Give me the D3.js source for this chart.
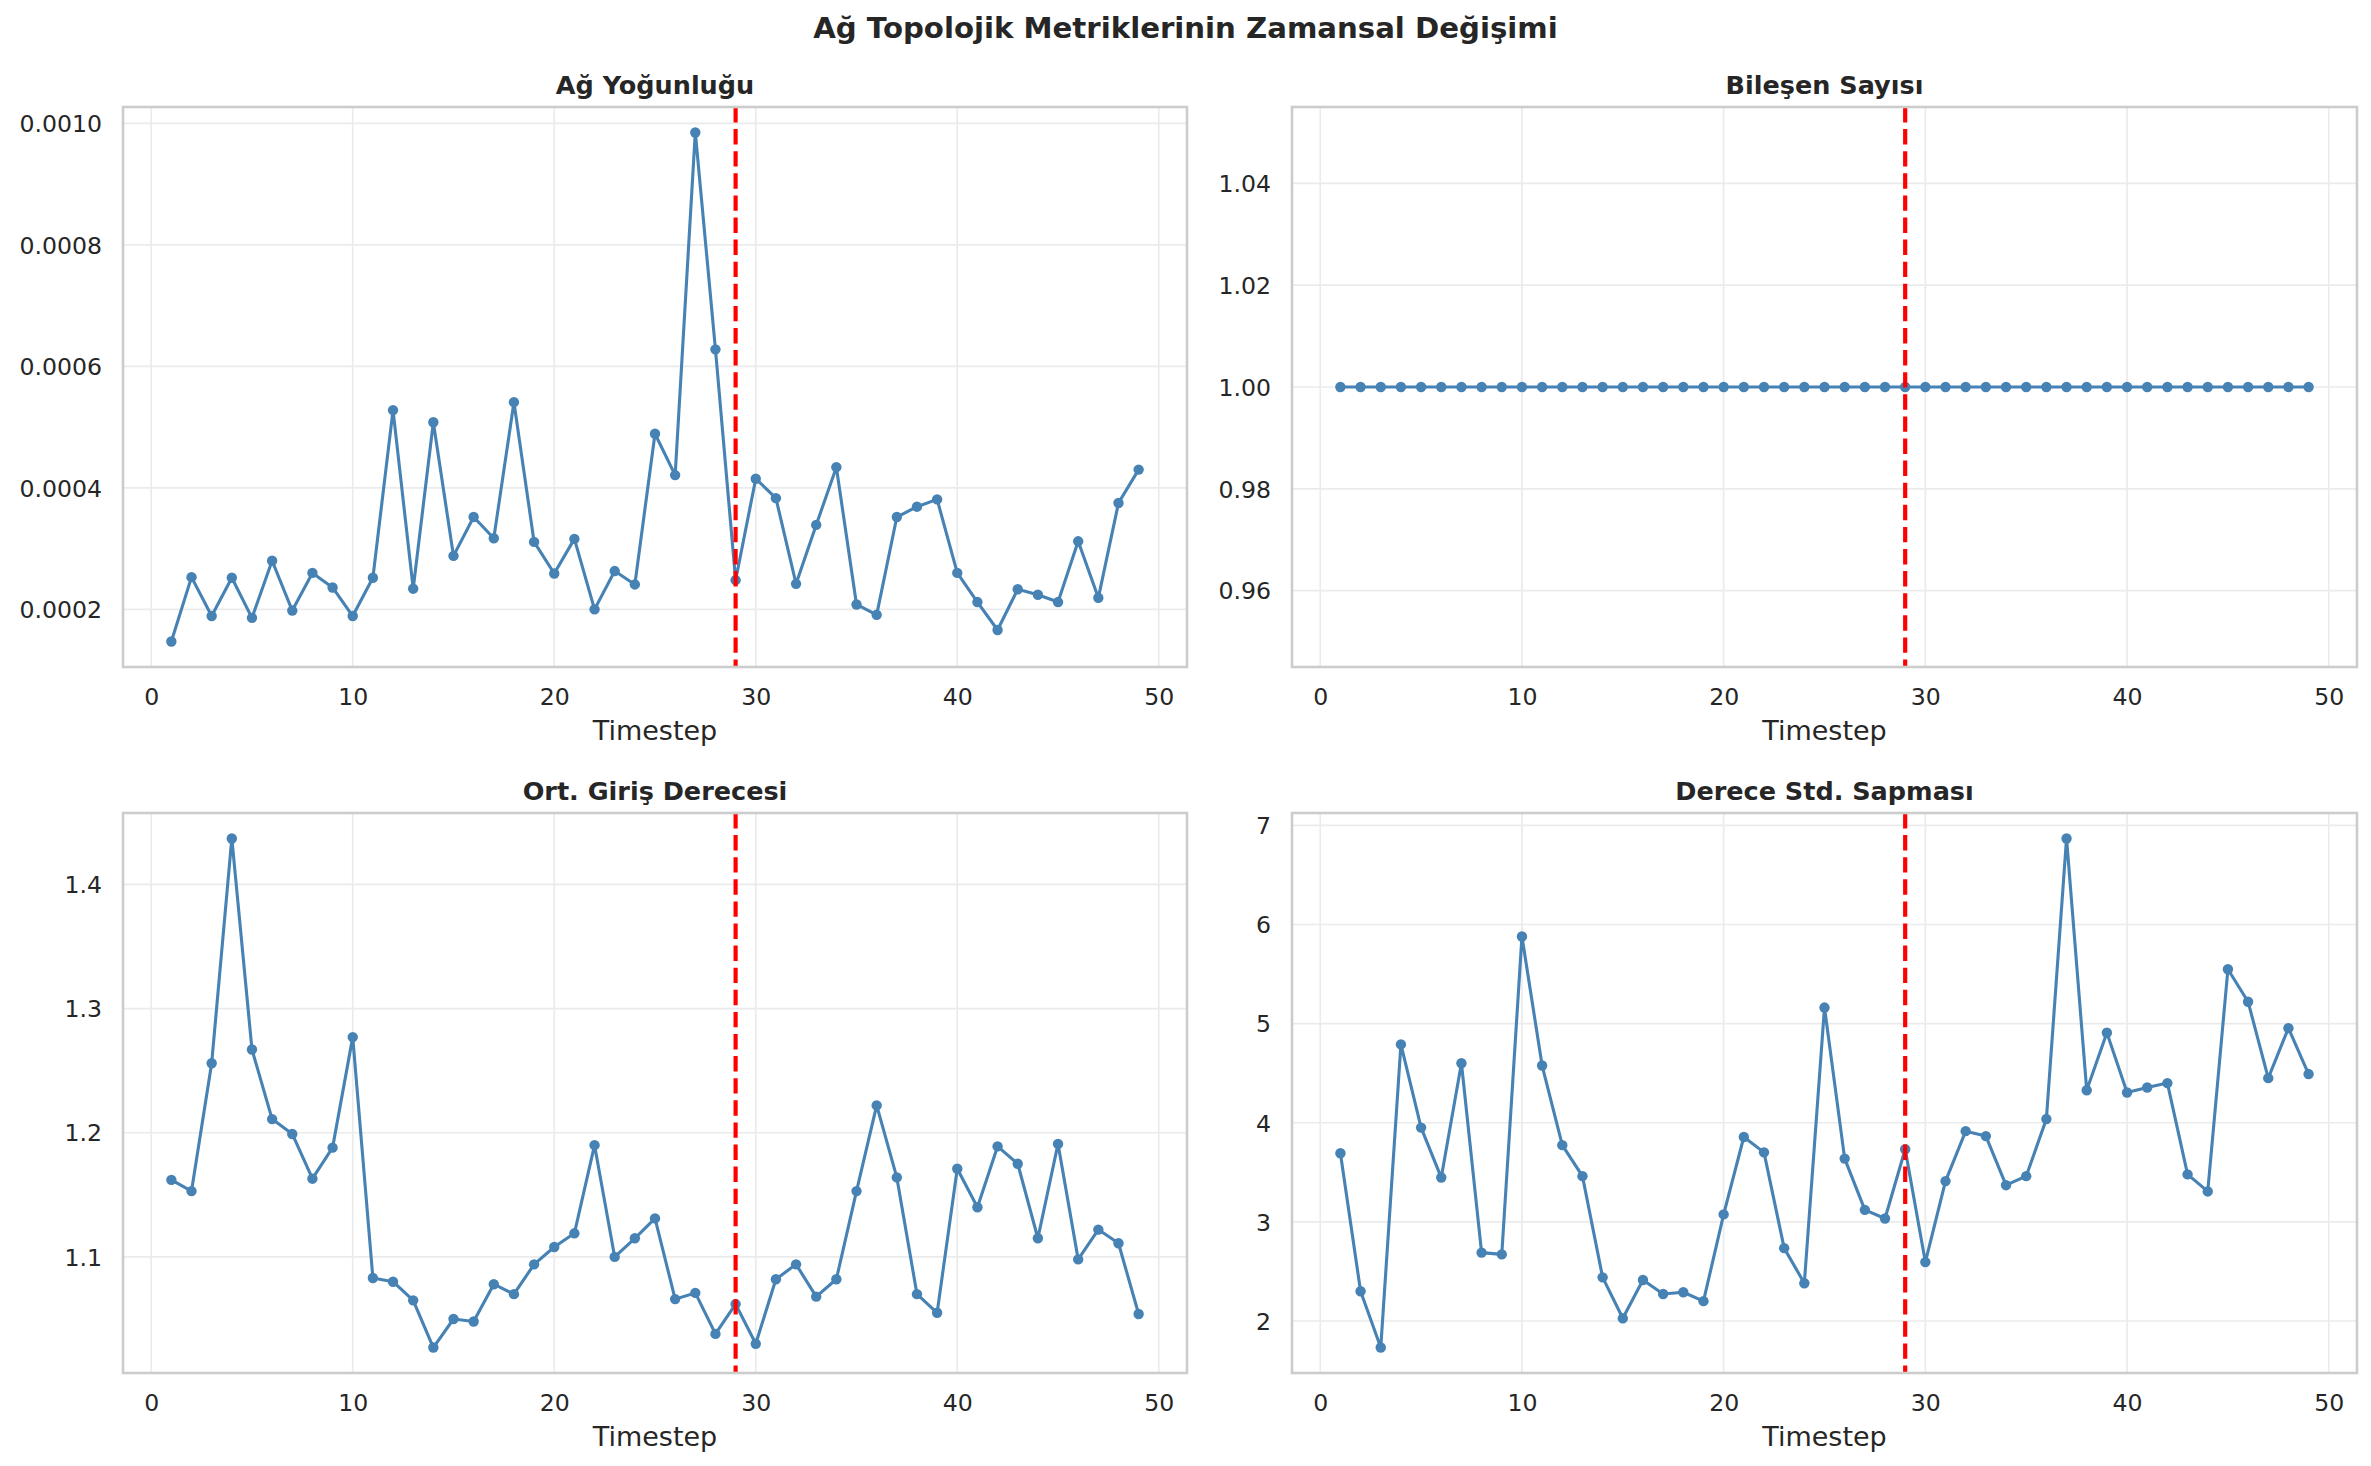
<!DOCTYPE html>
<html>
<head>
<meta charset="utf-8">
<script src="https://cdn.jsdelivr.net/npm/d3@7"></script>
<style>
  html, body { margin: 0; padding: 0; background: #ffffff; }
  svg { display: block; }
  text { font-family: "DejaVu Sans", sans-serif; fill: #262626; }
</style>
</head>
<body>
<svg id="chart" width="2371" height="1466"></svg>
<script>
// ---- DATA ----
const timesteps = [1,2,3,4,5,6,7,8,9,10,11,12,13,14,15,16,17,18,19,20,21,22,23,24,25,
  26,27,28,29,30,31,32,33,34,35,36,37,38,39,40,41,42,43,44,45,46,47,48,49];

const networkDensity = [0.000147,0.000253,0.000189,0.000252,0.000186,0.000280,0.000198,0.000260,0.000236,0.000189,
  0.000252,0.000528,0.000234,0.000508,0.000288,0.000352,0.000317,0.000541,0.000311,0.000259,
  0.000316,0.000200,0.000263,0.000241,0.000489,0.000421,0.000985,0.000628,0.000248,0.000415,
  0.000383,0.000242,0.000339,0.000434,0.000208,0.000191,0.000352,0.000369,0.000381,0.000260,
  0.000212,0.000166,0.000233,0.000224,0.000212,0.000312,0.000219,0.000375,0.000430];

const componentCount = [1,1,1,1,1,1,1,1,1,1,1,1,1,1,1,1,1,1,1,1,1,1,1,1,1,
  1,1,1,1,1,1,1,1,1,1,1,1,1,1,1,1,1,1,1,1,1,1,1,1];

const avgInDegree = [1.162,1.153,1.256,1.437,1.267,1.211,1.199,1.163,1.188,1.277,
  1.083,1.080,1.065,1.027,1.050,1.048,1.078,1.070,1.094,1.108,
  1.119,1.190,1.100,1.115,1.131,1.066,1.071,1.038,1.062,1.030,
  1.082,1.094,1.068,1.082,1.153,1.222,1.164,1.070,1.055,1.171,
  1.140,1.189,1.175,1.115,1.191,1.098,1.122,1.111,1.054];

const degreeStd = [3.692,2.300,1.732,4.790,3.951,3.447,4.600,2.690,2.672,5.879,
  4.577,3.774,3.461,2.440,2.027,2.413,2.272,2.290,2.200,3.075,
  3.856,3.701,2.735,2.381,5.162,3.638,3.121,3.034,3.733,2.594,
  3.411,3.915,3.865,3.370,3.461,4.037,6.868,4.328,4.908,4.305,
  4.355,4.400,3.479,3.307,5.548,5.221,4.450,4.954,4.491];

const changePoint = 29;

const xTicks = [0,10,20,30,40,50];
const yTicksDensity = [0.0002,0.0004,0.0006,0.0008,0.0010];
const yTicksComponents = [0.96,0.98,1.00,1.02,1.04];
const yTicksInDegree = [1.1,1.2,1.3,1.4];
const yTicksStd = [2,3,4,5,6,7];

const suptitle = "Ağ Topolojik Metriklerinin Zamansal Değişimi";
const xLabel = "Timestep";

const panels = [
  { title: "Ağ Yoğunluğu", values: networkDensity, ticks: yTicksDensity, fmt: d3.format(".4f"), col: 0, row: 0 },
  { title: "Bileşen Sayısı", values: componentCount, ticks: yTicksComponents, fmt: d3.format(".2f"), col: 1, row: 0 },
  { title: "Ort. Giriş Derecesi", values: avgInDegree, ticks: yTicksInDegree, fmt: d3.format(".1f"), col: 0, row: 1 },
  { title: "Derece Std. Sapması", values: degreeStd, ticks: yTicksStd, fmt: d3.format("d"), col: 1, row: 1 }
];

// ---- LAYOUT ----
const colX = [[123, 1187], [1292, 2357]];
const rowY = [[107, 667], [813, 1373]];

const svg = d3.select("#chart");

svg.append("text")
  .attr("x", 1185.5).attr("y", 38)
  .attr("text-anchor", "middle")
  .style("font-size", "29.2px").style("font-weight", "bold")
  .text(suptitle);

function padDomain(lo, hi) {
  if (lo === hi) { const d = Math.abs(lo) * 0.05 || 0.05; lo -= d; hi += d; }
  const m = (hi - lo) * 0.05;
  return [lo - m, hi + m];
}

const xExt = d3.extent(timesteps);

panels.forEach((p, i) => {
  const [x0, x1] = colX[p.col];
  const [y0, y1] = rowY[p.row];
  const x = d3.scaleLinear().domain(padDomain(xExt[0], xExt[1])).range([x0, x1]);
  const ext = d3.extent(p.values);
  const y = d3.scaleLinear().domain(padDomain(ext[0], ext[1])).range([y1, y0]);

  const g = svg.append("g");
  const clipId = "clip" + i;
  svg.append("clipPath").attr("id", clipId)
    .append("rect").attr("x", x0).attr("y", y0).attr("width", x1 - x0).attr("height", y1 - y0);

  // grid
  const grid = g.append("g").attr("clip-path", `url(#${clipId})`);
  grid.selectAll("line.vx").data(xTicks).join("line")
    .attr("x1", d => x(d)).attr("x2", d => x(d)).attr("y1", y0).attr("y2", y1)
    .attr("stroke", "#ebebeb").attr("stroke-width", 1.7);
  grid.selectAll("line.hy").data(p.ticks).join("line")
    .attr("y1", d => y(d)).attr("y2", d => y(d)).attr("x1", x0).attr("x2", x1)
    .attr("stroke", "#ebebeb").attr("stroke-width", 1.7);

  // axes (d3 axes, tick lines hidden)
  const xAxis = g.append("g").attr("transform", `translate(0,${y1})`)
    .call(d3.axisBottom(x).tickValues(xTicks).tickSize(0).tickPadding(21).tickFormat(d3.format("d")));
  const yAxis = g.append("g").attr("transform", `translate(${x0},0)`)
    .call(d3.axisLeft(y).tickValues(p.ticks).tickSize(0).tickPadding(21).tickFormat(p.fmt));
  [xAxis, yAxis].forEach(a => {
    a.select(".domain").remove();
    a.selectAll("text").style("font-size", "23.6px").style("font-family", "DejaVu Sans").attr("fill", "#262626");
  });
  yAxis.selectAll("text").attr("dy", "0.35em");
  xAxis.selectAll("text").attr("dy", "0.72em");

  // data
  const plot = g.append("g").attr("clip-path", `url(#${clipId})`);
  const pts = timesteps.map((t, k) => [t, p.values[k]]);
  plot.append("path").datum(pts)
    .attr("fill", "none").attr("stroke", "#4682b4").attr("stroke-width", 3.1)
    .attr("stroke-linejoin", "round")
    .attr("d", d3.line().x(d => x(d[0])).y(d => y(d[1])));
  plot.selectAll("circle").data(pts).join("circle")
    .attr("cx", d => x(d[0])).attr("cy", d => y(d[1])).attr("r", 5.2)
    .attr("fill", "#4682b4");

  // change point
  plot.append("line")
    .attr("x1", x(changePoint)).attr("x2", x(changePoint)).attr("y1", y0).attr("y2", y1)
    .attr("stroke", "#ff0000").attr("stroke-width", 4.17)
    .attr("stroke-dasharray", "15.4,6.7");

  // spines
  g.append("rect").attr("x", x0).attr("y", y0).attr("width", x1 - x0).attr("height", y1 - y0)
    .attr("fill", "none").attr("stroke", "#cccccc").attr("stroke-width", 2.6);

  // title
  g.append("text").attr("x", (x0 + x1) / 2).attr("y", y0 - 13)
    .attr("text-anchor", "middle")
    .style("font-size", "25.5px").style("font-weight", "bold")
    .text(p.title);

  // x label
  g.append("text").attr("x", (x0 + x1) / 2).attr("y", y1 + 73)
    .attr("text-anchor", "middle")
    .style("font-size", "27px")
    .text(xLabel);
});
</script>
</body>
</html>
